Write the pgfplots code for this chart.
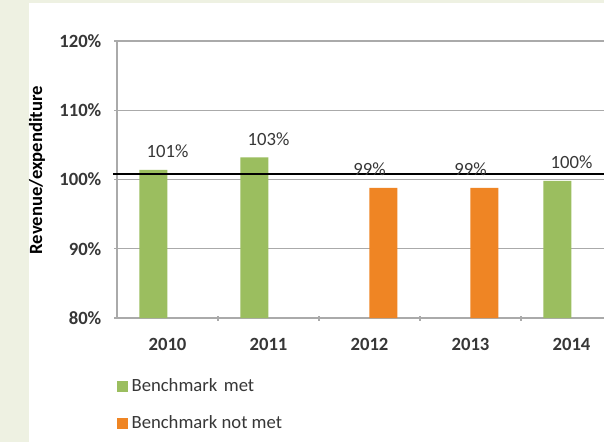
\documentclass[border=0pt]{standalone}
\usepackage{fontspec}
\setmainfont{Carlito}
\usepackage{pgfplots}
\pgfplotsset{compat=1.18}
\definecolor{cream}{RGB}{238,241,226}
\definecolor{barGreen}{RGB}{155,190,95}
\definecolor{barOrange}{RGB}{239,133,36}
\definecolor{txt}{RGB}{55,55,55}
\definecolor{gridc}{RGB}{170,170,170}
\begin{document}
\fontsize{14pt}{16pt}\selectfont
\begin{tikzpicture}[x=0.75pt,y=-0.75pt]
\useasboundingbox (0,0) rectangle (604,442);
\fill[cream] (0,0) rectangle (604,442);
\fill[white] (29,3) rectangle (604,442);
\begin{axis}[
  at={(87.75pt,-238.5pt)}, anchor=south west,
  scale only axis,
  width=378.75pt, height=207.75pt,
  xmin=-0.5, xmax=4.5,
  ymin=80, ymax=120,
  ytick={80,90,100,110,120},
  yticklabels={80\%,90\%,100\%,110\%,120\%},
  xtick={0,1,2,3,4},
  xticklabels={2010,2011,2012,2013,2014},
  minor xtick={0.5,1.5,2.5,3.5},
  /pgf/number format/assume math mode=true,
  tick align=outside,
  major tick length=3.75pt,
  minor tick length=3.75pt,
  xtick style={draw=none},
  minor x tick style={draw=gridc, line width=0.8pt},
  ytick style={draw=gridc, line width=1pt},
  axis lines=left,
  axis line style={-, draw=gridc, line width=1pt},
  ymajorgrids,
  major grid style={draw=gridc, line width=1pt},
  tick label style={font=\fontsize{14pt}{16pt}\selectfont\bfseries, text=txt},
  xticklabel style={yshift=-8.5pt},
  yticklabel style={xshift=-5pt},
  ylabel={Revenue/expenditure},
  every axis y label/.style={at={(axis description cs:0,0.534)}, xshift=-60pt, rotate=90, anchor=center, font=\fontsize{14pt}{16pt}\selectfont\bfseries, text=black},
  bar width=21pt,
  every node near coord/.append style={anchor=base, yshift=9pt, font=\fontsize{14pt}{16pt}\selectfont, text=txt, inner sep=0pt},
  clip=false,
  legend style={at={(axis description cs:0,-0.215)}, anchor=north west, draw=none, fill=none, inner sep=0pt,
    nodes={inner xsep=2.5pt, inner ysep=0pt, text depth=0.22em, text height=0.72em, font=\fontsize{14pt}{16pt}\selectfont, text=txt},
    row sep=14.5pt},
  legend cell align=left,
  legend image code/.code={\fill[#1] (0pt,-4.1pt) rectangle (8.25pt,4.1pt);},
]
\addplot[ybar, fill=barGreen, draw=none, bar shift=-10.5pt, nodes near coords, point meta=explicit symbolic] coordinates {(0,101.4) [101\%] (1,103.2) [103\%] (4,99.8) [100\%]};
\addlegendentry{Benchmark\hspace{0.12em} met}
\addplot[ybar, fill=barOrange, draw=none, bar shift=10.5pt, nodes near coords, point meta=explicit symbolic] coordinates {(2,98.8) [99\%] (3,98.8) [99\%]};
\addlegendentry{Benchmark not met}
\addplot[black, line width=1.9pt, sharp plot, forget plot] coordinates {(-0.54,100.8) (4.8,100.8)};
\end{axis}
\end{tikzpicture}
\end{document}
